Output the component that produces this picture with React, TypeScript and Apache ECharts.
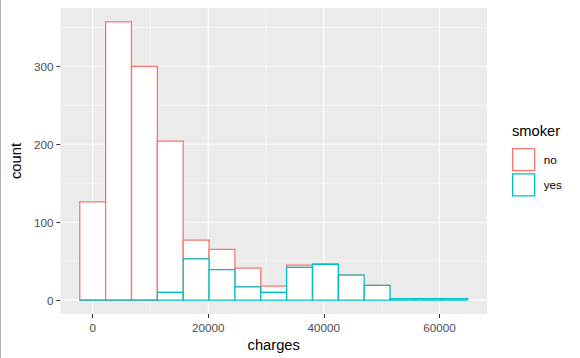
import React, { useEffect, useRef } from "react";
import * as echarts from "echarts";

// Histogram bins (ggplot2 bins = 15)
const binStart = -2237.45;
const binWidth = 4474.9;
const noCounts = [126, 357, 300, 194, 24, 26, 24, 8, 3, 0, 0, 0, 0, 0, 0];
const yesCounts = [0, 0, 0, 10, 53, 39, 17, 10, 42, 46, 32, 19, 2, 2, 2];

const xTicks = [0, 20000, 40000, 60000];
const xMinor = [10000, 30000, 50000];
const yTicks = [0, 100, 200, 300];
const yMinor = [50, 150, 250, 350];

const seriesNames = ["no", "yes"];
const colors = ["#F8766D", "#00BFC4"];

const FONT = "'Liberation Sans', Arial, Helvetica, sans-serif";

export default function App() {
  const ref = useRef<HTMLDivElement>(null);
  useEffect(() => {
    document.body.style.margin = "0";
    const chart = echarts.init(ref.current!, null, { renderer: "svg" });

    const noData = noCounts.map((c, i) => {
      const x0 = binStart + i * binWidth;
      return [x0, x0 + binWidth, yesCounts[i], yesCounts[i] + c];
    });
    const yesData = yesCounts.map((c, i) => {
      const x0 = binStart + i * binWidth;
      return [x0, x0 + binWidth, 0, c];
    });

    const gridData: number[][] = [];
    xTicks.forEach((v) => gridData.push([v, 0, 1, 1]));
    xMinor.forEach((v) => gridData.push([v, 0, 1, 0]));
    yTicks.forEach((v) => gridData.push([0, v, 0, 1]));
    yMinor.forEach((v) => gridData.push([0, v, 0, 0]));

    const barRender = (color: string) => (params: any, api: any) => {
      const p0 = api.coord([api.value(0), api.value(3)]);
      const p1 = api.coord([api.value(1), api.value(2)]);
      return {
        type: "rect",
        shape: { x: p0[0], y: p0[1], width: p1[0] - p0[0], height: p1[1] - p0[1] },
        style: { fill: "#ffffff", stroke: color, lineWidth: 1.3 },
      };
    };

    const xMin = -5593;
    const xMax = 68242;
    const yMin = -17.85;
    const yMax = 374.85;

    chart.setOption({
      animation: false,
      grid: {
        left: 58,
        top: 8,
        width: 429,
        height: 306,
        show: true,
        backgroundColor: "#EBEBEB",
        borderWidth: 0,
      },
      xAxis: {
        type: "value",
        min: xMin,
        max: xMax,
        name: "charges",
        nameLocation: "middle",
        nameGap: 21,
        nameTextStyle: { color: "#000", fontSize: 14.7, fontFamily: FONT },
        axisLine: { show: false, onZero: false },
        axisTick: { show: true, length: 4, customValues: xTicks, lineStyle: { color: "#333333", width: 1.07 } },
        axisLabel: {
          customValues: xTicks,
          formatter: (v: number) => String(v),
          color: "#4D4D4D",
          fontSize: 11.7,
          fontFamily: FONT,
          margin: 7,
        },
        splitLine: { show: false },
      },
      yAxis: {
        type: "value",
        min: yMin,
        max: yMax,
        name: "count",
        nameLocation: "middle",
        nameGap: 36,
        nameTextStyle: { color: "#000", fontSize: 14.7, fontFamily: FONT },
        axisLine: { show: false, onZero: false },
        axisTick: { show: true, length: 4, customValues: yTicks, lineStyle: { color: "#333333", width: 1.07 } },
        axisLabel: {
          customValues: yTicks,
          formatter: (v: number) => String(v),
          color: "#4D4D4D",
          fontSize: 11.7,
          fontFamily: FONT,
          margin: 7,
        },
        splitLine: { show: false },
      },
      legend: {
        orient: "vertical",
        left: 512,
        top: 148,
        padding: 0,
        itemWidth: 22,
        itemHeight: 22,
        itemGap: 2,
        icon: "rect",
        textStyle: { color: "#000", fontSize: 11.7, fontFamily: FONT, padding: [0, 0, 0, 4] },
        data: seriesNames.map((n, i) => ({
          name: n,
          itemStyle: { color: "#ffffff", borderColor: colors[i], borderWidth: 1.3 },
        })),
      },
      graphic: [
        {
          type: "text",
          left: 512,
          top: 123,
          style: { text: "smoker", fill: "#000", fontSize: 14.7, fontFamily: FONT },
        },
        {
          type: "rect",
          left: 0,
          top: 0,
          shape: { width: 1, height: 358 },
          style: { fill: "#B0B0B0" },
        },
      ],
      series: [
        {
          type: "custom",
          name: "grid",
          silent: true,
          data: gridData,
          encode: { x: 0, y: 1 },
          renderItem: (params: any, api: any) => {
            const cs = params.coordSys;
            const vertical = api.value(2) === 1;
            const major = api.value(3) === 1;
            const lw = major ? 1.07 : 0.53;
            if (vertical) {
              const x = api.coord([api.value(0), 0])[0];
              return {
                type: "line",
                shape: { x1: x, y1: cs.y, x2: x, y2: cs.y + cs.height },
                style: { stroke: "#ffffff", lineWidth: lw },
              };
            }
            const y = api.coord([0, api.value(1)])[1];
            return {
              type: "line",
              shape: { x1: cs.x, y1: y, x2: cs.x + cs.width, y2: y },
              style: { stroke: "#ffffff", lineWidth: lw },
            };
          },
          z: 1,
        },
        {
          type: "custom",
          name: "no",
          data: noData,
          encode: { x: [0, 1], y: [2, 3] },
          renderItem: barRender(colors[0]),
          itemStyle: { color: "#ffffff", borderColor: colors[0] },
          z: 2,
        },
        {
          type: "custom",
          name: "yes",
          data: yesData,
          encode: { x: [0, 1], y: [2, 3] },
          renderItem: barRender(colors[1]),
          itemStyle: { color: "#ffffff", borderColor: colors[1] },
          z: 3,
        },
      ],
    });
    return () => chart.dispose();
  }, []);
  return <div ref={ref} style={{ width: 580, height: 358 }} />;
}
